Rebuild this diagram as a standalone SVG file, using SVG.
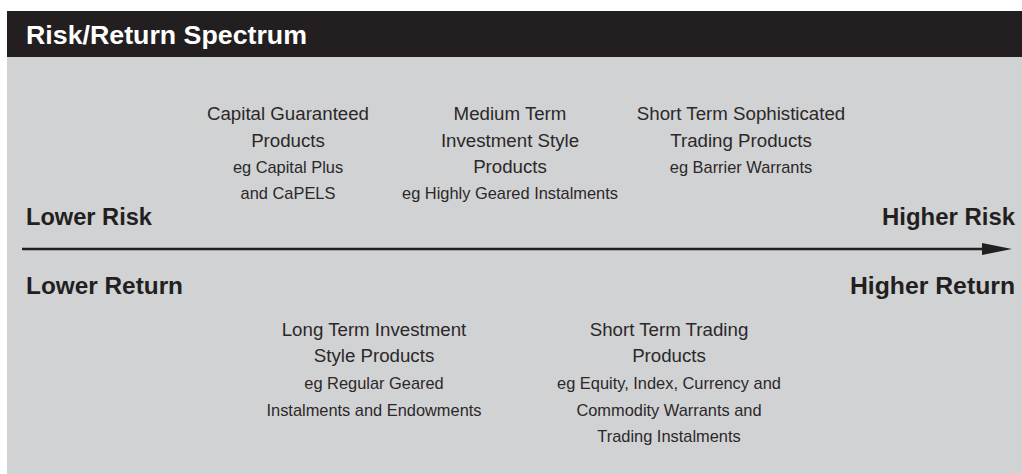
<svg xmlns="http://www.w3.org/2000/svg" width="1022" height="474" viewBox="0 0 1022 474">
  <style>
    .t { font-family: "Liberation Sans", Arial, sans-serif; fill: #2b2829; text-anchor: middle; }
    .m { font-size: 18.7px; }
    .s { font-size: 16.4px; }
    .b { font-family: "Liberation Sans", Arial, sans-serif; font-weight: bold; font-size: 24px; fill: #231f20; }
    .title { font-family: "Liberation Sans", Arial, sans-serif; font-weight: bold; font-size: 25px; fill: #ffffff; }
  </style>
  <defs>
    <marker id="arrow" markerUnits="userSpaceOnUse" markerWidth="30" markerHeight="12" refX="18" refY="6" orient="auto">
      <path d="M0,0 L30,6 L0,12 Z" fill="#231f20"/>
    </marker>
  </defs>
  <rect x="0" y="0" width="1022" height="474" fill="#ffffff"/>
  <rect x="7" y="57" width="1015" height="417" fill="#d1d2d4"/>
  <g id="header">
    <rect x="7" y="11" width="1015" height="46" fill="#231f20"/>
    <text class="title" x="26" y="44" textLength="281" lengthAdjust="spacingAndGlyphs">Risk/Return Spectrum</text>
  </g>
  <g id="axis-labels">
    <text class="b" x="26" y="225" textLength="126" lengthAdjust="spacingAndGlyphs">Lower Risk</text>
    <text class="b" x="26" y="294" textLength="157" lengthAdjust="spacingAndGlyphs">Lower Return</text>
    <text class="b" x="882" y="225" textLength="133" lengthAdjust="spacingAndGlyphs">Higher Risk</text>
    <text class="b" x="850" y="294" textLength="165" lengthAdjust="spacingAndGlyphs">Higher Return</text>
  </g>
  <g id="connectors">
    <line x1="22" y1="249" x2="1000" y2="249" stroke="#231f20" stroke-width="2.3" marker-end="url(#arrow)"/>
  </g>
  <g id="capital-guaranteed">
    <text class="t m" x="288" y="120">Capital Guaranteed</text>
    <text class="t m" x="288" y="146.5">Products</text>
    <text class="t s" x="288" y="172.7">eg Capital Plus</text>
    <text class="t s" x="288" y="199.3">and CaPELS</text>
  </g>
  <g id="medium-term">
    <text class="t m" x="510" y="120">Medium Term</text>
    <text class="t m" x="510" y="146.5">Investment Style</text>
    <text class="t m" x="510" y="172.7">Products</text>
    <text class="t s" x="510" y="199.3">eg Highly Geared Instalments</text>
  </g>
  <g id="short-term-sophisticated">
    <text class="t m" x="741" y="120">Short Term Sophisticated</text>
    <text class="t m" x="741" y="146.5">Trading Products</text>
    <text class="t s" x="741" y="172.7">eg Barrier Warrants</text>
  </g>
  <g id="long-term">
    <text class="t m" x="374" y="336">Long Term Investment</text>
    <text class="t m" x="374" y="362.3">Style Products</text>
    <text class="t s" x="374" y="389.3">eg Regular Geared</text>
    <text class="t s" x="374" y="416">Instalments and Endowments</text>
  </g>
  <g id="short-term-trading">
    <text class="t m" x="669" y="336">Short Term Trading</text>
    <text class="t m" x="669" y="362.3">Products</text>
    <text class="t s" x="669" y="389.3">eg Equity, Index, Currency and</text>
    <text class="t s" x="669" y="416">Commodity Warrants and</text>
    <text class="t s" x="669" y="441.7">Trading Instalments</text>
  </g>
</svg>
